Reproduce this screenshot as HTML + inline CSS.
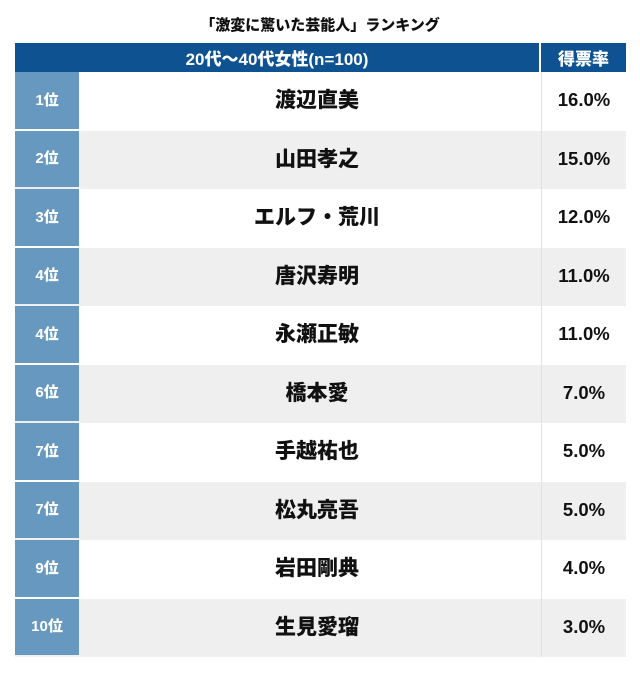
<!DOCTYPE html>
<html><head><meta charset="utf-8"><style>
body{margin:0;width:640px;height:685px;background:#fff;font-family:"Liberation Sans","Noto Sans CJK JP",sans-serif;position:relative;overflow:hidden}
.t{position:absolute;left:0;width:640px;top:14px;text-align:center;font-weight:900;font-size:15px;color:#111}
.hdr{position:absolute;top:43px;height:29px;background:#0e5291;color:#fff;font-weight:900;font-size:17px;display:flex;align-items:center;justify-content:center}
.row{position:absolute;left:15px;width:611px;height:58.5px}
.rk{position:absolute;left:0;top:0;width:64px;bottom:2px;background:#6798c0;color:#fff;font-weight:900;font-size:15px;display:flex;align-items:center;justify-content:center;padding-bottom:2px;box-sizing:border-box}
.nm{position:absolute;left:64px;width:476px;top:0;bottom:0;display:flex;align-items:center;justify-content:center;font-weight:900;font-size:21px;color:#111;padding-bottom:4px;box-sizing:border-box}
.sc{position:absolute;left:526px;right:0;top:0;bottom:0;border-left:1px solid #e2e2e2;display:flex;align-items:center;justify-content:center;font-weight:bold;font-size:18.5px;color:#111;padding-bottom:2px;box-sizing:border-box}
</style></head><body>
<div class="t">「激変に驚いた芸能人」ランキング</div>
<div class="hdr" style="left:15px;width:524px">20代〜40代女性(n=100)</div>
<div class="hdr" style="left:541px;width:85px">得票率</div>
<div id="rows"></div>
<script>
const ranks=["1位","2位","3位","4位","4位","6位","7位","7位","9位","10位"];
const names=["渡辺直美","山田孝之","エルフ・荒川","唐沢寿明","永瀬正敏","橋本愛","手越祐也","松丸亮吾","岩田剛典","生見愛瑠"];
const values=[16.0,15.0,12.0,11.0,11.0,7.0,5.0,5.0,4.0,3.0];
const c=document.getElementById('rows');
names.forEach((n,i)=>{
  const r=document.createElement('div');r.className='row';
  
  
  r.style.top=(72+i*58.5)+'px';r.style.background=i%2?'#efefef':'#fff';
  const a=document.createElement('div');a.className='rk';a.textContent=ranks[i];
  
  
  const b=document.createElement('div');b.className='nm';b.textContent=n;
  
  
  const s=document.createElement('div');s.className='sc';s.textContent=values[i].toFixed(1)+'%';
  
  
  r.append(b,s,a);c.appendChild(r);
});
</script>
</body></html>
